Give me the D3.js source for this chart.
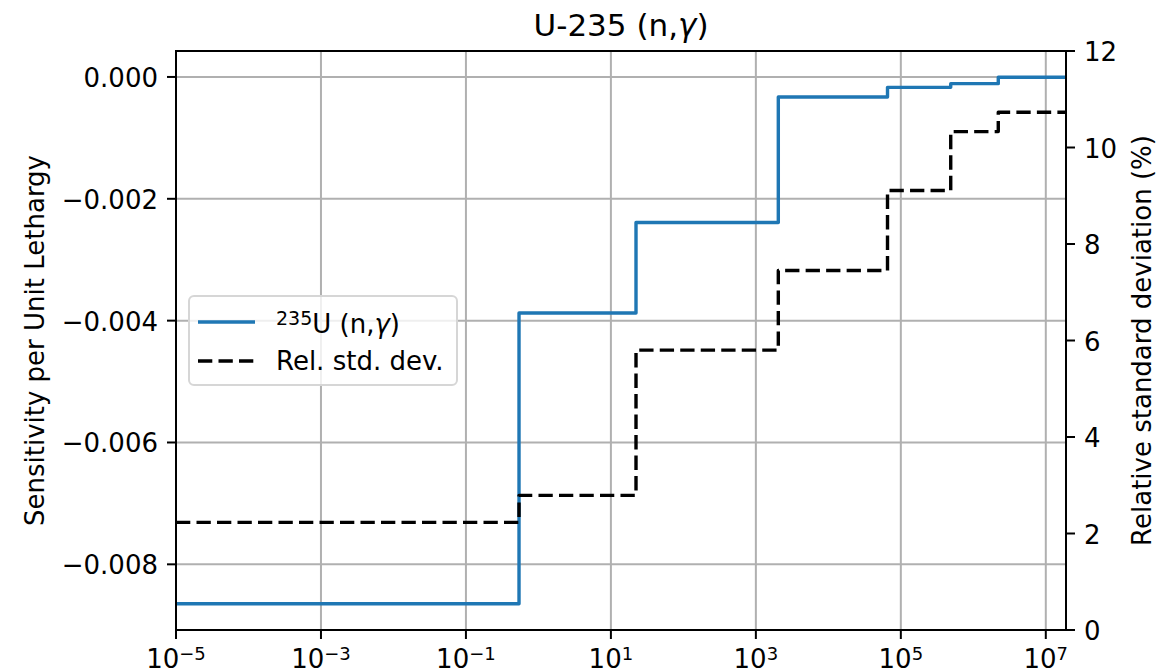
<!DOCTYPE html>
<html>
<head>
<meta charset="utf-8">
<script src="https://cdn.jsdelivr.net/npm/d3@7"></script>
<style>
  html, body { margin: 0; padding: 0; background: #ffffff; }
  svg { display: block; }
  text { font-family: "DejaVu Sans", sans-serif; fill: #000; }
</style>
</head>
<body>
<svg id="chart" width="1173" height="672"></svg>
<script>
// Energy group boundaries (eV), low to high
const energyBounds = [1e-5, 0.54, 22.2, 2040, 6.55e4, 4.88e5, 2.21e6, 1.9e7];
// Sensitivity per unit lethargy for each group
const sensitivity = [-0.008646, -0.003874, -0.00239, -0.000329, -0.000171, -0.00011, -0.000006];
// Relative standard deviation (%) for each group
const relStdDev = [2.23, 2.79, 5.80, 7.45, 9.11, 10.33, 10.73];

const xTickExps = [-5, -3, -1, 1, 3, 5, 7];
const yLeftTicks = [0, -0.002, -0.004, -0.006, -0.008];
const yRightTicks = [0, 2, 4, 6, 8, 10, 12];

const plot = { left: 176, right: 1066, top: 51, bottom: 630 };
const svg = d3.select("#chart");

const x = d3.scaleLog()
  .domain([energyBounds[0], energyBounds[energyBounds.length - 1]])
  .range([plot.left, plot.right]);

const sMin = d3.min(sensitivity), sMax = d3.max(sensitivity);
const pad = (sMax - sMin) * 0.05;
const yL = d3.scaleLinear().domain([sMin - pad, sMax + pad]).range([plot.bottom, plot.top]);
const yR = d3.scaleLinear().domain([0, 12]).range([plot.bottom, plot.top]);

const gridColor = "#b0b0b0";

// grid
const grid = svg.append("g");
xTickExps.forEach(e => {
  grid.append("line")
    .attr("x1", x(Math.pow(10, e))).attr("x2", x(Math.pow(10, e)))
    .attr("y1", plot.top).attr("y2", plot.bottom)
    .attr("stroke", gridColor).attr("stroke-width", 2);
});
yLeftTicks.forEach(v => {
  grid.append("line")
    .attr("x1", plot.left).attr("x2", plot.right)
    .attr("y1", yL(v)).attr("y2", yL(v))
    .attr("stroke", gridColor).attr("stroke-width", 2);
});

// clip to plot area
svg.append("defs").append("clipPath").attr("id", "plotClip")
  .append("rect")
  .attr("x", plot.left).attr("y", plot.top)
  .attr("width", plot.right - plot.left).attr("height", plot.bottom - plot.top);

function stepPoints(values) {
  const pts = values.map((v, i) => [energyBounds[i], v]);
  pts.push([energyBounds[energyBounds.length - 1], values[values.length - 1]]);
  return pts;
}

const lines = svg.append("g").attr("clip-path", "url(#plotClip)");

const lineL = d3.line().x(d => x(d[0])).y(d => yL(d[1])).curve(d3.curveStepAfter);
const lineR = d3.line().x(d => x(d[0])).y(d => yR(d[1])).curve(d3.curveStepAfter);

lines.append("path")
  .attr("d", lineL(stepPoints(sensitivity)))
  .attr("fill", "none").attr("stroke", "#1f77b4")
  .attr("stroke-width", 3.4).attr("stroke-linejoin", "round");

lines.append("path")
  .attr("d", lineR(stepPoints(relStdDev)))
  .attr("fill", "none").attr("stroke", "#000")
  .attr("stroke-width", 3.4).attr("stroke-linejoin", "round")
  .attr("stroke-dasharray", "14.3,6.2");

// frame
svg.append("rect")
  .attr("x", plot.left).attr("y", plot.top)
  .attr("width", plot.right - plot.left).attr("height", plot.bottom - plot.top)
  .attr("fill", "none").attr("stroke", "#000").attr("stroke-width", 2);

const tickLen = 9;
const fontSize = 26;

// bottom axis
const xAxisG = svg.append("g");
xTickExps.forEach(e => {
  const px = x(Math.pow(10, e));
  xAxisG.append("line")
    .attr("x1", px).attr("x2", px)
    .attr("y1", plot.bottom).attr("y2", plot.bottom + tickLen)
    .attr("stroke", "#000").attr("stroke-width", 2);
  const t = xAxisG.append("text")
    .attr("x", px).attr("y", 668)
    .attr("text-anchor", "middle")
    .attr("font-size", fontSize);
  t.append("tspan").text("10");
  t.append("tspan").attr("font-size", 18).attr("dy", -8)
    .text((e < 0 ? "\u2212" : "") + Math.abs(e));
});

// left axis
const yLAxisG = svg.append("g");
yLeftTicks.forEach(v => {
  const py = yL(v);
  yLAxisG.append("line")
    .attr("x1", plot.left - tickLen).attr("x2", plot.left)
    .attr("y1", py).attr("y2", py)
    .attr("stroke", "#000").attr("stroke-width", 2);
  yLAxisG.append("text")
    .attr("x", plot.left - tickLen - 9).attr("y", py + 10)
    .attr("text-anchor", "end").attr("font-size", fontSize)
    .text(v === 0 ? "0.000" : "\u2212" + Math.abs(v).toFixed(3));
});

// right axis
const yRAxisG = svg.append("g");
yRightTicks.forEach(v => {
  const py = yR(v);
  yRAxisG.append("line")
    .attr("x1", plot.right).attr("x2", plot.right + tickLen)
    .attr("y1", py).attr("y2", py)
    .attr("stroke", "#000").attr("stroke-width", 2);
  yRAxisG.append("text")
    .attr("x", plot.right + tickLen + 9).attr("y", py + 10)
    .attr("text-anchor", "start").attr("font-size", fontSize)
    .text(v);
});

// axis labels
const midY = (plot.top + plot.bottom) / 2;
svg.append("text")
  .attr("transform", `translate(44,${midY}) rotate(-90)`)
  .attr("text-anchor", "middle").attr("font-size", fontSize)
  .text("Sensitivity per Unit Lethargy");
svg.append("text")
  .attr("transform", `translate(1151,${midY}) rotate(-90)`)
  .attr("text-anchor", "middle").attr("font-size", fontSize)
  .text("Relative standard deviation (%)");

// title
const title = svg.append("text")
  .attr("x", (plot.left + plot.right) / 2).attr("y", 36)
  .attr("text-anchor", "middle").attr("font-size", 31);
title.append("tspan").text("U-235 (n,");
title.append("tspan").attr("font-style", "italic").text("\u03b3");
title.append("tspan").text(")");

// legend
const leg = svg.append("g");
leg.append("rect")
  .attr("x", 189).attr("y", 296).attr("width", 268).attr("height", 89)
  .attr("rx", 5).attr("ry", 5)
  .attr("fill", "#ffffff").attr("fill-opacity", 0.8)
  .attr("stroke", "#d6d6d6").attr("stroke-width", 2);

leg.append("line")
  .attr("x1", 198).attr("x2", 255).attr("y1", 322).attr("y2", 322)
  .attr("stroke", "#1f77b4").attr("stroke-width", 3.4);
leg.append("line")
  .attr("x1", 198).attr("x2", 255).attr("y1", 361).attr("y2", 361)
  .attr("stroke", "#000").attr("stroke-width", 3.4)
  .attr("stroke-dasharray", "14.3,6.2");

const l1 = leg.append("text").attr("x", 276).attr("y", 333).attr("font-size", fontSize);
l1.append("tspan").attr("font-size", 19).attr("dy", -8).text("235");
l1.append("tspan").attr("dy", 8).text("U (n,");
l1.append("tspan").attr("font-style", "italic").text("\u03b3");
l1.append("tspan").text(")");

leg.append("text").attr("x", 276).attr("y", 370).attr("font-size", fontSize)
  .text("Rel. std. dev.");
</script>
</body>
</html>
